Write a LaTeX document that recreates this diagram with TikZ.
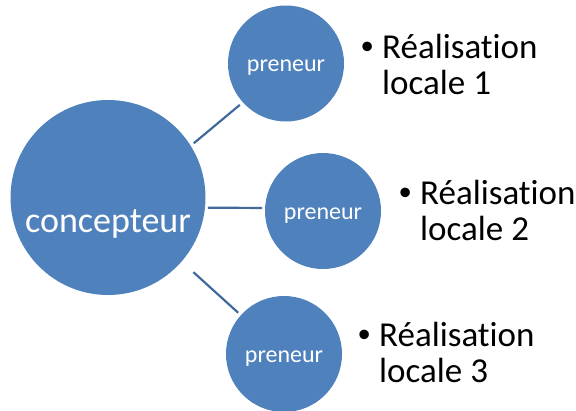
\documentclass[tikz,border=0pt]{standalone}
\usepackage{fontspec}
\setmainfont{Carlito}[Ligatures=NoCommon]
\newfontfamily\bulletfont{Liberation Sans}
\definecolor{bubble}{HTML}{4F81BD}
\definecolor{linkblue}{HTML}{41699B}
\newcommand{\bulletpoint}[1]{%
  \fontsize{35}{36.5}\selectfont
  \begin{tabular}[t]{@{}p{21pt}@{}l@{}}
    {\bulletfont •} & Réalisation\\
    & locale #1
  \end{tabular}}
\begin{document}
\begin{tikzpicture}[x=1pt,y=-1pt,
  hub/.style={circle, fill=bubble, minimum size=195pt, inner sep=0pt, outer sep=0pt},
  leaf/.style={circle, fill=bubble, minimum size=116pt, inner sep=0pt, outer sep=0pt},
  hubtext/.style={text=white, font=\fontsize{36}{40}\selectfont, anchor=base, inner sep=0pt},
  leaftext/.style={text=white, font=\fontsize{24}{28}\selectfont, anchor=base, inner sep=0pt},
  itemtext/.style={anchor=base west, inner sep=0pt, text=black},
  spoke/.style={draw=linkblue, line width=2.2pt}]
\useasboundingbox (0,0) rectangle (576,410);

% circles
\node[hub]  (hub)  at (108,197.5) {};
\node[leaf] (top)  at (286,63.5)  {};
\node[leaf] (mid)  at (323,211)   {};
\node[leaf] (bot)  at (284,354)   {};

% circle labels
\node[hubtext]  (hubl) at ([yshift=-34.5pt]hub.center) {concepteur};
\node[leaftext] (topl) at ([yshift=-8pt]top.center) {preneur};
\node[leaftext] (midl) at ([yshift=-8pt]mid.center) {preneur};
\node[leaftext] (botl) at ([yshift=-8pt]bot.center) {preneur};

% spokes
\draw[spoke, shorten <=4pt, shorten >=4pt] (hub.32) -- (top.222);
\draw[spoke, shorten <=3pt, shorten >=3pt] (hub.-6) -- (mid.177);
\draw[spoke, shorten <=16pt, shorten >=3.6pt] (hub.-41) -- (bot.138);

% bullet lists
\node[itemtext] (item1) at (361,58)  {\bulletpoint{1}};
\node[itemtext] (item2) at (399,204) {\bulletpoint{2}};
\node[itemtext] (item3) at (358,346) {\bulletpoint{3}};
\end{tikzpicture}
\end{document}
